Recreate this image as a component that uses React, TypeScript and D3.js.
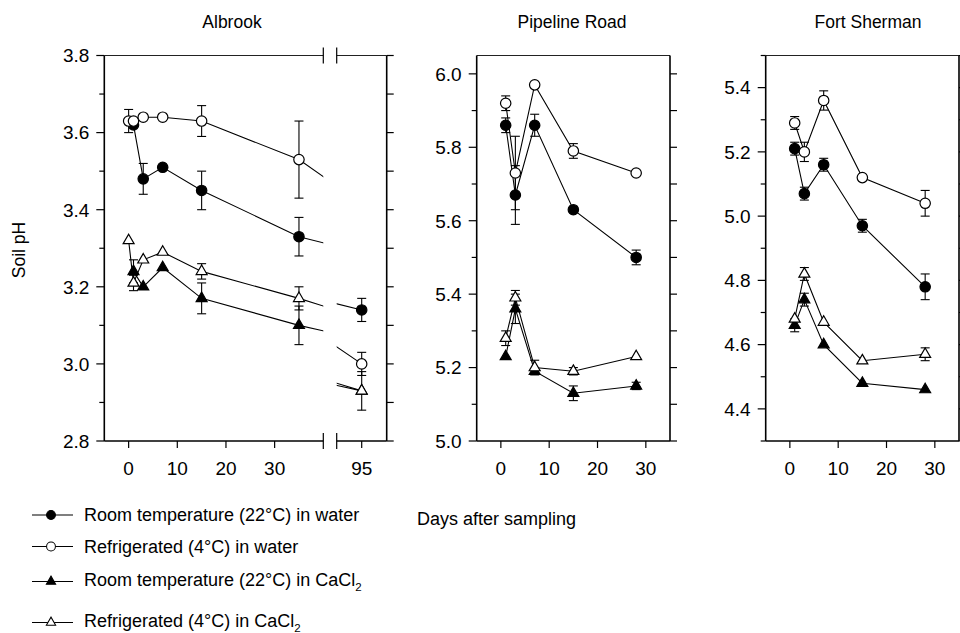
import React from 'react';
import * as d3 from 'd3';

const FONT = '"Liberation Sans", Arial, Helvetica, sans-serif';

// ---------- data ----------
const PANEL_TITLES = ['Albrook', 'Pipeline Road', 'Fort Sherman'];

const ALB_DAYS = [0, 1, 3, 7, 15, 35, 95];
const albRoomWater = [null, 3.62, 3.48, 3.51, 3.45, 3.33, 3.14];
const albRoomWaterErr = [0, 0, 0.04, 0, 0.05, 0.05, 0.03];
const albFridgeWater = [3.63, 3.63, 3.64, 3.64, 3.63, 3.53, 3.0];
const albFridgeWaterErr = [0.03, 0, 0, 0, 0.04, 0.1, 0.03];
const albRoomCaCl = [null, 3.24, 3.2, 3.25, 3.17, 3.1, 2.93];
const albRoomCaClErr = [0, 0.03, 0, 0, 0.04, 0.05, 0];
const albFridgeCaCl = [3.32, 3.21, 3.27, 3.29, 3.24, 3.17, 2.93];
const albFridgeCaClErr = [0, 0.02, 0, 0, 0.02, 0.03, 0.05];

const PL_DAYS = [1, 3, 7, 15, 28];
const plRoomWater = [5.86, 5.67, 5.86, 5.63, 5.5];
const plRoomWaterErr = [0.02, 0.08, 0.03, 0, 0.02];
const plFridgeWater = [5.92, 5.73, 5.97, 5.79, 5.73];
const plFridgeWaterErr = [0.02, 0.1, 0, 0.02, 0];
const plRoomCaCl = [5.23, 5.36, 5.19, 5.13, 5.15];
const plRoomCaClErr = [0, 0.04, 0, 0.02, 0.01];
const plFridgeCaCl = [5.28, 5.39, 5.2, 5.19, 5.23];
const plFridgeCaClErr = [0.02, 0.02, 0.02, 0.01, 0];

const FS_DAYS = [1, 3, 7, 15, 28];
const fsRoomWater = [5.21, 5.07, 5.16, 4.97, 4.78];
const fsRoomWaterErr = [0.02, 0.02, 0.02, 0.02, 0.04];
const fsFridgeWater = [5.29, 5.2, 5.36, 5.12, 5.04];
const fsFridgeWaterErr = [0.02, 0.03, 0.03, 0, 0.04];
const fsRoomCaCl = [4.66, 4.74, 4.6, 4.48, 4.46];
const fsRoomCaClErr = [0.02, 0.02, 0, 0, 0];
const fsFridgeCaCl = [4.68, 4.82, 4.67, 4.55, 4.57];
const fsFridgeCaClErr = [0, 0.02, 0, 0, 0.02];

const X_TICKS = [0, 10, 20, 30];
const X_TICKS_LATE = [95];
const ALB_Y_LABELS = ['2.8', '3.0', '3.2', '3.4', '3.6', '3.8'];
const PL_Y_LABELS = ['5.0', '5.2', '5.4', '5.6', '5.8', '6.0'];
const FS_Y_LABELS = ['4.4', '4.6', '4.8', '5.0', '5.2', '5.4'];

const LEGEND_LABELS = [
  'Room temperature (22°C) in water',
  'Refrigerated (4°C) in water',
  'Room temperature (22°C) in CaCl',
  'Refrigerated (4°C) in CaCl',
];

// ---------- styles ----------
const STYLES = [
  { shape: 'circle', filled: true },
  { shape: 'circle', filled: false },
  { shape: 'triangle', filled: true },
  { shape: 'triangle', filled: false },
];
const DRAW_ORDER = [0, 2, 1, 3];

type Seg = { dom: [number, number]; rng: [number, number]; ticks: number[] };

function Marker({ cx, cy, style }: any) {
  const fill = style.filled ? '#000' : '#fff';
  if (style.shape === 'circle') {
    return <circle cx={cx} cy={cy} r={5.2} fill={fill} stroke="#000" strokeWidth={1.2} />;
  }
  const p = d3.symbol().type(d3.symbolTriangle).size(52)() as string;
  return <path d={p} transform={`translate(${cx},${cy})`} fill={fill} stroke="#000" strokeWidth={1.2} />;
}

function Panel({ id, title, titleX, segs, yDom, yLabels, days, values, errs }: any) {
  const top = 55.5;
  const bottom = 441;
  const y = d3.scaleLinear().domain(yDom).range([bottom, top]);
  const left = segs[0].rng[0];
  const right = segs[segs.length - 1].rng[1];
  const tenths = d3.range(Math.ceil(yDom[0] * 10 - 1e-6), Math.floor(yDom[1] * 10 + 1e-6) + 1).map((v) => v / 10);
  const majors = yLabels.map((s: string) => +s);

  return (
    <g>
      <text x={titleX} y={28} textAnchor="middle" fontSize={17.5}>{title}</text>
      {segs.map((seg: Seg, si: number) => {
        const x = d3.scaleLinear().domain(seg.dom).range(seg.rng);
        const clipId = `clip-${id}-${si}`;
        return (
          <g key={si}>
            <defs>
              <clipPath id={clipId}>
                <rect x={seg.rng[0]} y={top - 20} width={seg.rng[1] - seg.rng[0]} height={bottom - top + 40} />
              </clipPath>
            </defs>
            <g clipPath={`url(#${clipId})`}>
              {values.map((vals: (number | null)[], k: number) => {
                const pts = days
                  .map((d: number, i: number) => [d, vals[i]])
                  .filter((p: any) => p[1] != null);
                const line = d3
                  .line<any>()
                  .x((p) => x(p[0]))
                  .y((p) => y(p[1]));
                return <path key={k} d={line(pts) as string} fill="none" stroke="#000" strokeWidth={1.1} />;
              })}
            </g>
            {values.map((vals: (number | null)[], k: number) =>
              days.map((d: number, i: number) => {
                const v = vals[i];
                const e = errs[k][i];
                if (v == null || !e || d < seg.dom[0] || d > seg.dom[1]) return null;
                const cx = x(d);
                return (
                  <g key={`e${k}-${i}`} stroke="#000" strokeWidth={1.1}>
                    <line x1={cx} x2={cx} y1={y(v + e)} y2={y(v - e)} />
                    <line x1={cx - 4.5} x2={cx + 4.5} y1={y(v + e)} y2={y(v + e)} />
                    <line x1={cx - 4.5} x2={cx + 4.5} y1={y(v - e)} y2={y(v - e)} />
                  </g>
                );
              })
            )}
            {DRAW_ORDER.map((k) =>
              days.map((d: number, i: number) => {
                const v = values[k][i];
                if (v == null || d < seg.dom[0] || d > seg.dom[1]) return null;
                return <Marker key={`m${k}-${i}`} cx={x(d)} cy={y(v)} style={STYLES[k]} />;
              })
            )}
            <line x1={seg.rng[0]} x2={seg.rng[1]} y1={top} y2={top} stroke="#222" strokeWidth={1} />
            <line x1={seg.rng[0]} x2={seg.rng[1]} y1={bottom} y2={bottom} stroke="#000" strokeWidth={1.5} />
            {seg.ticks.map((t) => (
              <g key={t}>
                <line x1={x(t)} x2={x(t)} y1={bottom} y2={bottom + 7} stroke="#000" strokeWidth={1.2} />
                <text x={x(t)} y={474.5} textAnchor="middle" fontSize={19}>{t}</text>
              </g>
            ))}
            {si > 0 && (
              <g stroke="#000" strokeWidth={1.2}>
                <line x1={seg.rng[0]} x2={seg.rng[0]} y1={top - 8} y2={top + 8} />
                <line x1={seg.rng[0]} x2={seg.rng[0]} y1={bottom - 8} y2={bottom + 8} />
              </g>
            )}
            {si < segs.length - 1 && (
              <g stroke="#000" strokeWidth={1.2}>
                <line x1={seg.rng[1]} x2={seg.rng[1]} y1={top - 8} y2={top + 8} />
                <line x1={seg.rng[1]} x2={seg.rng[1]} y1={bottom - 8} y2={bottom + 8} />
              </g>
            )}
          </g>
        );
      })}
      <line x1={left} x2={left} y1={top} y2={bottom} stroke="#000" strokeWidth={1.6} />
      {tenths.map((v: number) => {
        const isMajor = majors.some((m: number) => Math.abs(m - v) < 1e-6);
        return (
          <line key={`l${v}`} x1={left - (isMajor ? 8 : 5)} x2={left} y1={y(v)} y2={y(v)} stroke="#000" strokeWidth={1.2} />
        );
      })}
      {yLabels.map((s: string) => (
        <text key={s} x={left - 15} y={y(+s)} dy="0.36em" textAnchor="end" fontSize={19}>{s}</text>
      ))}
      <line x1={right} x2={right} y1={top} y2={bottom} stroke="#000" strokeWidth={1.6} />
      {tenths.map((v: number) => (
        <line key={`r${v}`} x1={right} x2={right + 7} y1={y(v)} y2={y(v)} stroke="#000" strokeWidth={1.2} />
      ))}
    </g>
  );
}

export default function App() {
  const albSegs: Seg[] = [
    { dom: [-5, 40], rng: [104.3, 323.3], ticks: X_TICKS },
    { dom: [90, 100], rng: [336.7, 386.7], ticks: X_TICKS_LATE },
  ];
  const plSegs: Seg[] = [{ dom: [-5, 35], rng: [476.7, 670], ticks: X_TICKS }];
  const fsSegs: Seg[] = [{ dom: [-5, 35], rng: [765.7, 959], ticks: X_TICKS }];

  const legendY = [515, 546.5, 581.5, 622.5];
  const textY = [521, 552.5, 586, 627];

  return (
    <svg
      width={960}
      height={633}
      style={{ position: 'absolute', left: 0, top: 0, background: '#fff' }}
      fontFamily={FONT}
      fill="#000"
    >
      <rect width={960} height={633} fill="#fff" />
      <Panel
        id="alb"
        title={PANEL_TITLES[0]}
        titleX={232}
        segs={albSegs}
        yDom={[2.8, 3.8]}
        yLabels={ALB_Y_LABELS}
        days={ALB_DAYS}
        values={[albRoomWater, albFridgeWater, albRoomCaCl, albFridgeCaCl]}
        errs={[albRoomWaterErr, albFridgeWaterErr, albRoomCaClErr, albFridgeCaClErr]}
      />
      <Panel
        id="pl"
        title={PANEL_TITLES[1]}
        titleX={572}
        segs={plSegs}
        yDom={[5.0, 6.05]}
        yLabels={PL_Y_LABELS}
        days={PL_DAYS}
        values={[plRoomWater, plFridgeWater, plRoomCaCl, plFridgeCaCl]}
        errs={[plRoomWaterErr, plFridgeWaterErr, plRoomCaClErr, plFridgeCaClErr]}
      />
      <Panel
        id="fs"
        title={PANEL_TITLES[2]}
        titleX={868}
        segs={fsSegs}
        yDom={[4.3, 5.5]}
        yLabels={FS_Y_LABELS}
        days={FS_DAYS}
        values={[fsRoomWater, fsFridgeWater, fsRoomCaCl, fsFridgeCaCl]}
        errs={[fsRoomWaterErr, fsFridgeWaterErr, fsRoomCaClErr, fsFridgeCaClErr]}
      />
      <text transform="translate(25,250) rotate(-90)" textAnchor="middle" fontSize={17.5}>Soil pH</text>
      <text x={417} y={525} fontSize={18}>Days after sampling</text>
      {LEGEND_LABELS.map((lab, k) => (
        <g key={k}>
          <line x1={32} x2={73} y1={legendY[k]} y2={legendY[k]} stroke="#000" strokeWidth={1.1} />
          <g transform={`translate(51,${legendY[k]}) scale(0.85)`}>
            <Marker cx={0} cy={0} style={STYLES[k]} />
          </g>
          <text x={84} y={textY[k]} fontSize={18}>
            {lab}
            {k >= 2 && (
              <tspan fontSize={11.5} dy={5}>2</tspan>
            )}
          </text>
        </g>
      ))}
    </svg>
  );
}
